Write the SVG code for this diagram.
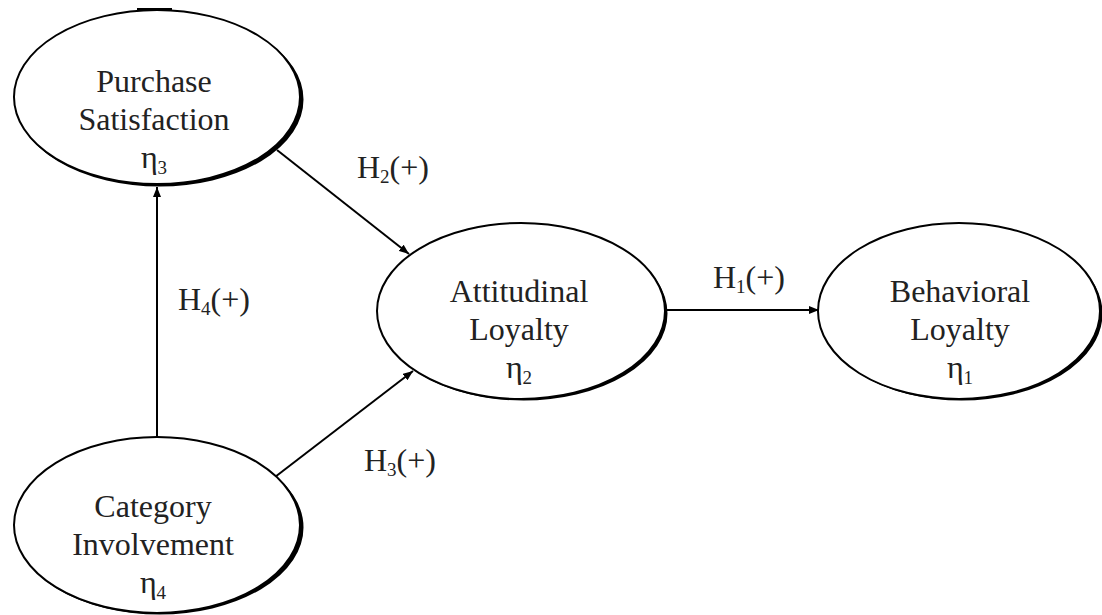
<svg xmlns="http://www.w3.org/2000/svg" width="1102" height="615" viewBox="0 0 1102 615">
<style>
.sh{fill:#000;stroke:#000;stroke-width:2}
.el{fill:#fff;stroke:#000;stroke-width:2}
.t{font-family:"Liberation Serif","Times New Roman",serif;font-size:32px;fill:#222;text-anchor:middle}
.sub{font-size:19px}
.lbl{font-family:"Liberation Serif","Times New Roman",serif;font-size:32px;fill:#222}
.c{stroke:#000;stroke-width:2;fill:none;marker-end:url(#ah)}
</style>
<defs>
<marker id="ah" viewBox="0 0 10 8" refX="10" refY="4" markerWidth="10" markerHeight="8" markerUnits="userSpaceOnUse" orient="auto">
<path d="M0,0 L10,4 L0,8 Z" fill="#000"/>
</marker>
</defs>
<rect width="1102" height="615" fill="#fff"/>
<g id="connectors">
<line class="c" x1="157" y1="437" x2="157" y2="187"/>
<line class="c" x1="277" y1="150" x2="409" y2="254"/>
<line class="c" x1="275" y1="477" x2="413" y2="371"/>
<line class="c" x1="666" y1="310" x2="819" y2="310"/>
</g>
<g id="labels">
<text class="lbl" x="357" y="178">H<tspan class="sub" dy="5">2</tspan><tspan dy="-5">(+)</tspan></text>
<text class="lbl" x="178" y="310">H<tspan class="sub" dy="5">4</tspan><tspan dy="-5">(+)</tspan></text>
<text class="lbl" x="364" y="471">H<tspan class="sub" dy="5">3</tspan><tspan dy="-5">(+)</tspan></text>
<text class="lbl" x="713" y="288">H<tspan class="sub" dy="5">1</tspan><tspan dy="-5">(+)</tspan></text>
</g>
<g id="purchase-satisfaction">
<rect x="137" y="8" width="35" height="4" fill="#000"/>
<ellipse class="sh" cx="159.5" cy="99.5" rx="143" ry="86"/>
<ellipse class="el" cx="157" cy="97" rx="143" ry="87"/>
<text class="t" x="154" y="92">Purchase</text>
<text class="t" x="154" y="130">Satisfaction</text>
<text class="t" x="154" y="168">η<tspan class="sub" dy="6">3</tspan></text>
</g>
<g id="category-involvement">
<ellipse class="sh" cx="159.5" cy="527.5" rx="143" ry="86"/>
<ellipse class="el" cx="157" cy="525" rx="143" ry="88"/>
<text class="t" x="153" y="517">Category</text>
<text class="t" x="153" y="555">Involvement</text>
<text class="t" x="153" y="593">η<tspan class="sub" dy="6">4</tspan></text>
</g>
<g id="attitudinal-loyalty">
<ellipse class="sh" cx="523.5" cy="313.5" rx="143" ry="86"/>
<ellipse class="el" cx="521" cy="311" rx="144" ry="88"/>
<text class="t" x="519" y="302">Attitudinal</text>
<text class="t" x="519" y="340">Loyalty</text>
<text class="t" x="519" y="378">η<tspan class="sub" dy="6">2</tspan></text>
</g>
<g id="behavioral-loyalty">
<ellipse class="sh" cx="961.5" cy="313.5" rx="140" ry="86"/>
<ellipse class="el" cx="959" cy="311" rx="141" ry="88"/>
<text class="t" x="960" y="302">Behavioral</text>
<text class="t" x="960" y="340">Loyalty</text>
<text class="t" x="960" y="378">η<tspan class="sub" dy="6">1</tspan></text>
</g>
</svg>
